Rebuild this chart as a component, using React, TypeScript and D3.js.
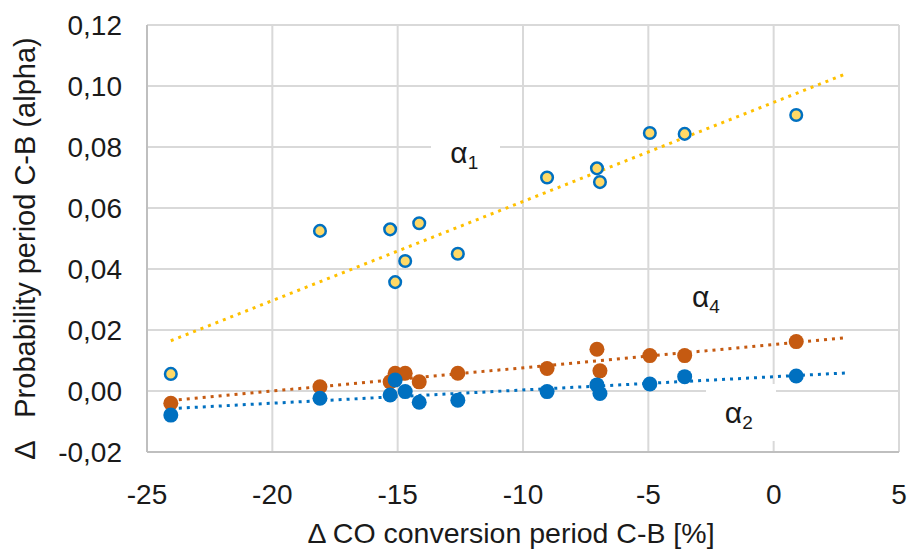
import React from "react";
import * as d3 from "d3";

// Δ CO conversion [%] for each run (same x for all three series)
const conversion = [-24.05, -18.1, -15.3, -15.1, -14.7, -14.14, -12.6, -9.04, -7.05, -6.93, -4.94, -3.55, 0.9];
const alpha1 = [0.0056, 0.0525, 0.053, 0.0357, 0.0426, 0.055, 0.045, 0.07, 0.073, 0.0685, 0.0846, 0.0843, 0.0905];
const alpha4 = [-0.004, 0.0014, 0.003, 0.0058, 0.0058, 0.003, 0.0058, 0.0074, 0.0137, 0.0066, 0.0116, 0.0116, 0.0162];
const alpha2 = [-0.0079, -0.0024, -0.0013, 0.0036, -0.0002, -0.0037, -0.003, -0.0002, 0.002, -0.0008, 0.0023, 0.0047, 0.0049];

const xTicks = [-25, -20, -15, -10, -5, 0, 5];
const yTicks = [-0.02, 0, 0.02, 0.04, 0.06, 0.08, 0.1, 0.12];

const width = 907;
const height = 550;
const margin = { top: 25, right: 8, bottom: 98, left: 147 };
const font = "'Liberation Sans', Arial, sans-serif";

const fmtY = (v: number) => d3.format(".2f")(v).replace(".", ",").replace("\u2212", "-");

// least squares trend, like Excel's linear trendline
const linFit = (xs: number[], ys: number[]) => {
  const mx = d3.mean(xs)!;
  const my = d3.mean(ys)!;
  const b = d3.sum(xs, (x, i) => (x - mx) * (ys[i] - my)) / d3.sum(xs, (x) => (x - mx) ** 2);
  return (x: number) => my + b * (x - mx);
};

const App = () => {
  const innerW = width - margin.left - margin.right;
  const innerH = height - margin.top - margin.bottom;

  const xScale = d3.scaleLinear().domain([-25, 5]).range([0, innerW]);
  const yScale = d3.scaleLinear().domain([-0.02, 0.12]).range([innerH, 0]);

  const x0 = d3.min(conversion)!;
  const x1 = d3.max(conversion)! + 2;

  const series = [
    { key: "a4", ys: alpha4, color: "#C55A11" },
    { key: "a2", ys: alpha2, color: "#0070C0" },
    { key: "a1", ys: alpha1, color: "#FFC000" },
  ];

  return (
    <svg width={width} height={height} style={{ position: "absolute", left: 0, top: 0, background: "#fff" }}>
      <g transform={`translate(${margin.left},${margin.top})`}>
        <g className="grid">
          {yTicks.map((t) => (
            <line key={"y" + t} x1={0} x2={innerW} y1={yScale(t)} y2={yScale(t)} stroke="#D9D9D9" strokeWidth={2} />
          ))}
          {xTicks.map((t) => (
            <line key={"x" + t} x1={xScale(t)} x2={xScale(t)} y1={0} y2={innerH} stroke="#D9D9D9" strokeWidth={2} />
          ))}
        </g>
        <line x1={0} x2={0} y1={0} y2={innerH} stroke="#BFBFBF" strokeWidth={2} />
        <line x1={0} x2={innerW} y1={innerH} y2={innerH} stroke="#BFBFBF" strokeWidth={2} />

        {/* label boxes hide the grid behind them */}
        <rect x={xScale(-13.67)} y={yScale(0.0855)} width={69} height={52} fill="#fff" />
        <rect x={xScale(-2.7)} y={yScale(0.0023)} width={70} height={57} fill="#fff" />

        {series.map((s) => {
          const f = linFit(conversion, s.ys);
          return (
            <line
              key={"t" + s.key}
              x1={xScale(x0)}
              y1={yScale(f(x0))}
              x2={xScale(x1)}
              y2={yScale(f(x1))}
              stroke={s.color}
              strokeWidth={3}
              strokeDasharray="3 5"
            />
          );
        })}

        {alpha4.map((v, i) => (
          <circle key={"o" + i} cx={xScale(conversion[i])} cy={yScale(v)} r={7.5} fill="#C55A11" />
        ))}
        {alpha2.map((v, i) => (
          <circle key={"b" + i} cx={xScale(conversion[i])} cy={yScale(v)} r={7.5} fill="#0070C0" />
        ))}
        {alpha1.map((v, i) => (
          <circle key={"y" + i} cx={xScale(conversion[i])} cy={yScale(v)} r={5.8} fill="#FFD966" stroke="#0070C0" strokeWidth={2.5} />
        ))}

        <g fontFamily={font} fill="#1a1a1a">
          {yTicks.map((t) => (
            <text key={"yl" + t} x={-25} y={yScale(t)} dy="0.35em" textAnchor="end" fontSize={28}>
              {fmtY(t)}
            </text>
          ))}
          {xTicks.map((t) => (
            <text key={"xl" + t} x={xScale(t)} y={innerH + 42} dy="0.35em" textAnchor="middle" fontSize={28}>
              {t}
            </text>
          ))}
          <text x={364} y={innerH + 81} dy="0.35em" textAnchor="middle" fontSize={28.5}>
            Δ CO conversion period C-B [%]
          </text>
          <text
            transform={`translate(${-margin.left + 25},${innerH / 2 + 10}) rotate(-90)`}
            dy="0.35em"
            textAnchor="middle"
            fontSize={29}
            style={{ whiteSpace: "pre" }}
          >
            {"Δ   Probability period C-B (alpha)"}
          </text>

          <text x={xScale(-12.9)} y={yScale(0.0749)} fontSize={30}>
            α<tspan fontSize={19} dy={6}>1</tspan>
          </text>
          <text x={xScale(-1.95)} y={yScale(-0.0105)} fontSize={30}>
            α<tspan fontSize={19} dy={6}>2</tspan>
          </text>
          <text x={xScale(-3.26)} y={yScale(0.0275)} fontSize={30}>
            α<tspan fontSize={19} dy={6}>4</tspan>
          </text>
        </g>
      </g>
    </svg>
  );
};

export default App;
